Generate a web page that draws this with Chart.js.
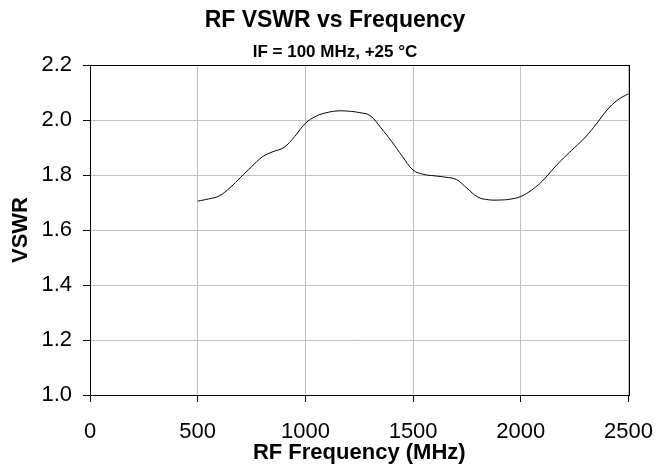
<!DOCTYPE html>
<html>
<head>
<meta charset="utf-8">
<script src="https://cdn.jsdelivr.net/npm/chart.js@4/dist/chart.umd.min.js"></script>
<style>
  html, body { margin: 0; padding: 0; background: #fff; }
  #wrap { width: 670px; height: 469px; }
</style>
</head>
<body>
<div id="wrap"><canvas id="vswrChart" width="670" height="469"></canvas></div>
<script>
const freqMHz = [500, 550, 600, 650, 700, 750, 800, 850, 900, 950,
                 1000, 1050, 1100, 1150, 1200, 1250, 1300, 1350, 1400, 1450,
                 1500, 1550, 1600, 1650, 1700, 1750, 1800, 1850, 1900, 1950,
                 2000, 2050, 2100, 2150, 2200, 2250, 2300, 2350, 2400, 2450, 2500];
const vswr = [1.705, 1.713, 1.724, 1.754, 1.792, 1.830, 1.866, 1.885, 1.900, 1.940,
              1.988, 2.014, 2.027, 2.033, 2.032, 2.027, 2.016, 1.972, 1.922, 1.868,
              1.818, 1.802, 1.797, 1.792, 1.784, 1.752, 1.720, 1.710, 1.709, 1.712,
              1.722, 1.745, 1.778, 1.822, 1.863, 1.900, 1.938, 1.985, 2.036, 2.073, 2.096];
const xTicks = [0, 500, 1000, 1500, 2000, 2500];
const yTicks = [1.0, 1.2, 1.4, 1.6, 1.8, 2.0, 2.2];

const FONT = 'Liberation Sans, Arial, sans-serif';

// black frame round the plot area
const frame = {
    id: 'frame',
    afterDraw(chart) {
        const a = chart.chartArea;
        const ctx = chart.ctx;
        ctx.save();
        ctx.strokeStyle = '#000';
        ctx.lineWidth = 1;
        ctx.strokeRect(Math.round(a.left) + 0.5, Math.round(a.top) + 0.5,
                       Math.round(a.right - a.left), Math.round(a.bottom - a.top));
        ctx.restore();
    }
};

const ctx = document.getElementById('vswrChart').getContext('2d');
new Chart(ctx, {
    type: 'line',
    data: {
        datasets: [{
            data: freqMHz.map((f, i) => ({ x: f, y: vswr[i] })),
            borderColor: '#000',
            borderWidth: 1,
            pointRadius: 0,
            tension: 0.4,
            fill: false
        }]
    },
    options: {
        responsive: false,
        animation: false,
        devicePixelRatio: 1,
        layout: { padding: 0 },
        plugins: {
            legend: { display: false },
            tooltip: { enabled: false },
            title: {
                display: true,
                text: 'RF VSWR vs Frequency',
                color: '#000',
                font: { family: FONT, size: 23, weight: 'bold' },
                padding: { top: 7, bottom: 4 }
            },
            subtitle: {
                display: true,
                text: 'IF = 100 MHz, +25 °C',
                color: '#000',
                font: { family: FONT, size: 17, weight: 'bold' },
                padding: { top: 3.2, bottom: 2.8 }
            }
        },
        scales: {
            x: {
                type: 'linear',
                min: 0,
                max: 2500,
                afterFit(scale) { scale.height = 74; },
                afterBuildTicks(scale) { scale.ticks = xTicks.map(v => ({ value: v })); },
                ticks: {
                    color: '#000',
                    font: { family: FONT, size: 22 },
                    padding: 17,
                    maxRotation: 0,
                    callback: v => String(v)
                },
                grid: { color: '#c0c0c0', tickColor: '#000', tickLength: 7, lineWidth: 1 },
                border: { color: '#000' },
                title: {
                    display: true,
                    text: 'RF Frequency (MHz)',
                    color: '#000',
                    font: { family: FONT, size: 22, weight: 'bold' },
                    padding: { top: 0, bottom: 3 }
                }
            },
            y: {
                min: 1.0,
                max: 2.2,
                afterFit(scale) { scale.width = 90; },
                afterBuildTicks(scale) { scale.ticks = yTicks.map(v => ({ value: v })); },
                ticks: {
                    color: '#000',
                    font: { family: FONT, size: 22 },
                    padding: 11,
                    callback: v => v.toFixed(1)
                },
                grid: { color: '#c0c0c0', tickColor: '#000', tickLength: 7, lineWidth: 1 },
                border: { color: '#000' },
                title: {
                    display: true,
                    text: 'VSWR',
                    color: '#000',
                    font: { family: FONT, size: 22, weight: 'bold' },
                    padding: { top: 8, bottom: 0 }
                }
            },
            // empty spacer on the right so the plot ends where the original does
            yRight: {
                position: 'right',
                display: true,
                afterFit(scale) { scale.width = 38; },
                ticks: { display: false },
                grid: { display: false },
                border: { display: false }
            }
        }
    },
    plugins: [frame]
});
</script>
</body>
</html>
